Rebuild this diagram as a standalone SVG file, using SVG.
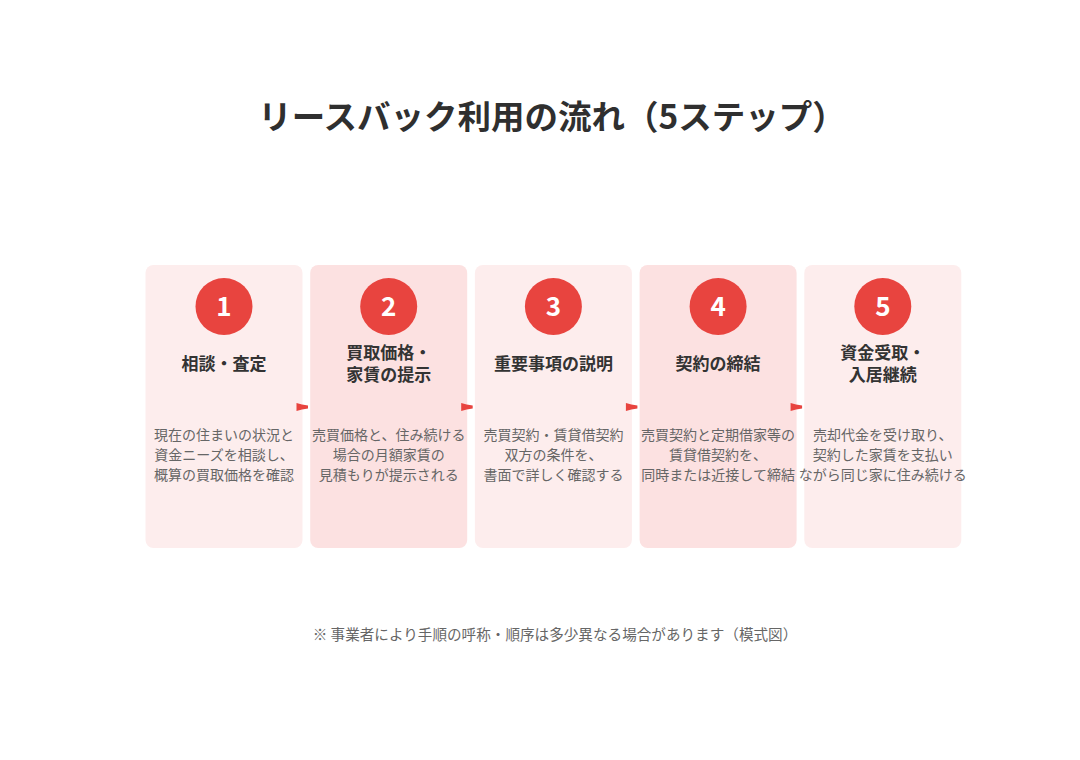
<svg xmlns="http://www.w3.org/2000/svg" width="1080" height="760" viewBox="0 0 1080 760">
<style>
text{font-family:"Noto Sans CJK JP","Noto Sans",sans-serif;text-anchor:middle}
.title{font-size:33.5px;font-weight:700;fill:#2f2f2f}
.card-a{fill:#fdeded}
.card-b{fill:#fce1e1}
.circ{fill:#e8443f}
.num{font-size:26px;font-weight:700;fill:#fff}
.head{font-size:17px;font-weight:700;fill:#333}
.desc{font-size:14px;fill:#666}
.note{font-size:14.6px;fill:#666}
.arr{fill:#e8443f}
</style>
<rect width="1080" height="760" fill="#fff"/>
<text class="title" x="552" y="129">リースバック利用の流れ（5ステップ）</text>

<g id="step1">
<rect class="card-a" x="145.5" y="265" width="157" height="283" rx="8"/>
<circle class="circ" cx="224" cy="306.5" r="28.5"/>
<text class="num" x="224" y="316">1</text>
<text class="head" x="224" y="370">相談・査定</text>
<text class="desc" x="224" y="440">現在の住まいの状況と</text>
<text class="desc" x="224" y="460">資金ニーズを相談し、</text>
<text class="desc" x="224" y="480">概算の買取価格を確認</text>
</g>
<g id="step2">
<rect class="card-b" x="310.2" y="265" width="157" height="283" rx="8"/>
<circle class="circ" cx="388.7" cy="306.5" r="28.5"/>
<text class="num" x="388.7" y="316">2</text>
<text class="head" x="388.7" y="359">買取価格・</text>
<text class="head" x="388.7" y="381">家賃の提示</text>
<text class="desc" x="388.7" y="440">売買価格と、住み続ける</text>
<text class="desc" x="388.7" y="460">場合の月額家賃の</text>
<text class="desc" x="388.7" y="480">見積もりが提示される</text>
</g>
<g id="step3">
<rect class="card-a" x="474.9" y="265" width="157" height="283" rx="8"/>
<circle class="circ" cx="553.4" cy="306.5" r="28.5"/>
<text class="num" x="553.4" y="316">3</text>
<text class="head" x="553.4" y="370">重要事項の説明</text>
<text class="desc" x="553.4" y="440">売買契約・賃貸借契約</text>
<text class="desc" x="553.4" y="460">双方の条件を、</text>
<text class="desc" x="553.4" y="480">書面で詳しく確認する</text>
</g>
<g id="step4">
<rect class="card-b" x="639.6" y="265" width="157" height="283" rx="8"/>
<circle class="circ" cx="718.1" cy="306.5" r="28.5"/>
<text class="num" x="718.1" y="316">4</text>
<text class="head" x="718.1" y="370">契約の締結</text>
<text class="desc" x="718.1" y="440">売買契約と定期借家等の</text>
<text class="desc" x="718.1" y="460">賃貸借契約を、</text>
<text class="desc" x="718.1" y="480">同時または近接して締結</text>
</g>
<g id="step5">
<rect class="card-a" x="804.3" y="265" width="157" height="283" rx="8"/>
<circle class="circ" cx="882.8" cy="306.5" r="28.5"/>
<text class="num" x="882.8" y="316">5</text>
<text class="head" x="882.8" y="359">資金受取・</text>
<text class="head" x="882.8" y="381">入居継続</text>
<text class="desc" x="882.8" y="440">売却代金を受け取り、</text>
<text class="desc" x="882.8" y="460">契約した家賃を支払い</text>
<text class="desc" x="882.8" y="480">ながら同じ家に住み続ける</text>
</g>

<g id="connectors">
<path class="arr" d="M296.5,403 L302,404.5 L308,405.5 L308,408.5 L302,409.5 L296.5,411 Z"/>
<path class="arr" d="M461.2,403 L466.7,404.5 L472.7,405.5 L472.7,408.5 L466.7,409.5 L461.2,411 Z"/>
<path class="arr" d="M625.9,403 L631.4,404.5 L637.4,405.5 L637.4,408.5 L631.4,409.5 L625.9,411 Z"/>
<path class="arr" d="M790.6,403 L796.1,404.5 L802.1,405.5 L802.1,408.5 L796.1,409.5 L790.6,411 Z"/>
</g>

<text class="note" x="555" y="640">※ 事業者により手順の呼称・順序は多少異なる場合があります（模式図）</text>
</svg>
